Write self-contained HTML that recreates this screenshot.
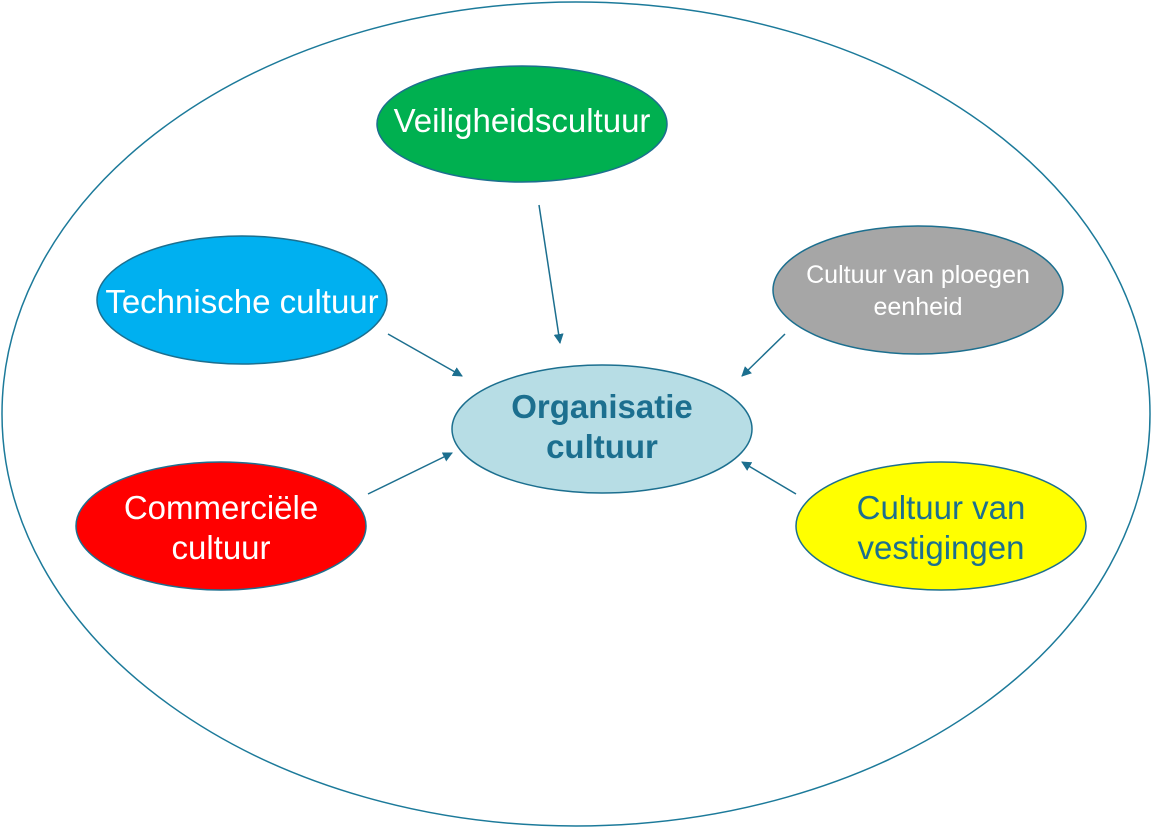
<!DOCTYPE html>
<html><head><meta charset="utf-8"><style>
html,body{margin:0;padding:0;background:#fff;}
svg{display:block;}
text{font-family:"Liberation Sans",Arial,sans-serif;}
</style></head><body>
<svg width="1152" height="829" viewBox="0 0 1152 829" xmlns="http://www.w3.org/2000/svg">
<defs>
<marker id="a" markerWidth="10" markerHeight="10" refX="9" refY="5" orient="auto" markerUnits="userSpaceOnUse">
<path d="M0,0 L10,5 L0,10 z" fill="#1c6f8f"/>
</marker>
</defs>
<ellipse cx="576" cy="414" rx="574" ry="412" fill="#fff" stroke="#1c7a9a" stroke-width="1.5"/>
<g stroke="#1c6f8f" stroke-width="1.5">
<ellipse cx="522" cy="124" rx="145" ry="58" fill="#00b050"/>
<ellipse cx="242" cy="300" rx="145" ry="64" fill="#00b0f0"/>
<ellipse cx="602" cy="429" rx="150" ry="64" fill="#b7dde5"/>
<ellipse cx="918" cy="290" rx="145" ry="64" fill="#a6a6a6"/>
<ellipse cx="221" cy="526" rx="145" ry="64" fill="#ff0000"/>
<ellipse cx="941" cy="526" rx="145" ry="64" fill="#ffff00"/>
</g>
<g stroke="#1c6f8f" stroke-width="1.5" marker-end="url(#a)">
<line x1="539" y1="205" x2="560" y2="343"/>
<line x1="388" y1="334" x2="462" y2="376"/>
<line x1="368" y1="494" x2="452" y2="453"/>
<line x1="785" y1="334" x2="742" y2="376"/>
<line x1="796" y1="494" x2="742" y2="462"/>
</g>
<g text-anchor="middle" font-size="33">
<text x="522" y="132" fill="#fff">Veiligheidscultuur</text>
<text x="242" y="313" fill="#fff">Technische cultuur</text>
<text x="221" y="519" fill="#fff">Commerciële</text>
<text x="221" y="559" fill="#fff">cultuur</text>
<text x="941" y="519" fill="#1c6f8f">Cultuur van</text>
<text x="941" y="559" fill="#1c6f8f">vestigingen</text>
<text x="602" y="418" fill="#1c6f8f" font-weight="bold">Organisatie</text>
<text x="602" y="458" fill="#1c6f8f" font-weight="bold">cultuur</text>
<text x="918" y="283" fill="#fff" font-size="25">Cultuur van ploegen</text>
<text x="918" y="315" fill="#fff" font-size="25">eenheid</text>
</g>
</svg>
</body></html>
